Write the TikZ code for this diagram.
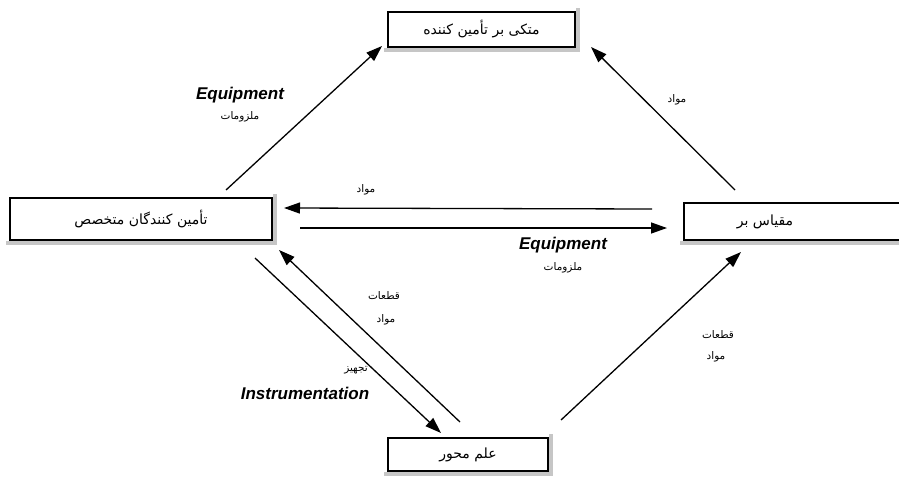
\documentclass[tikz,border=0pt]{standalone}
\usepackage{fontspec}
\setmainfont{Liberation Sans}
\newfontfamily\arabicfont[Script=Arabic]{DejaVu Sans}
\TeXXeTstate=1
\usetikzlibrary{arrows.meta,backgrounds}
\tikzset{
  boxnode/.style={draw, line width=1.3pt, fill=white, inner sep=0pt},
  shadowfill/.style={fill=gray!45},
  arr/.style={line width=1.3pt, -{Triangle[length=16pt,width=11pt]}},
  fa/.style={font=\arabicfont\fontsize{14}{16}\selectfont},
  falab/.style={font=\arabicfont\fontsize{10.5}{12}\selectfont},
  en/.style={font=\fontsize{17}{19}\selectfont\bfseries\itshape}
}
\begin{document}
\begin{tikzpicture}[x=1pt,y=-1pt]
\useasboundingbox (0,0) rectangle (899,479);
% boxes
\node[boxnode, minimum width=187pt, minimum height=35pt, fa] (top) at (481.5,29.5) {\beginR متکی بر تأمین کننده\endR};
\node[boxnode, minimum width=262pt, minimum height=42pt, fa] (left) at (141,219) {\beginR تأمین کنندگان متخصص\endR};
\node[boxnode, minimum width=220pt, minimum height=37pt] (right) at (794,221.5) {};
\node[fa] (righttext) at (765,221.5) {\beginR مقیاس بر\endR};
\node[boxnode, minimum width=160pt, minimum height=33pt, fa] (bottom) at (468,454.5) {\beginR علم محور\endR};
\begin{scope}[on background layer]
\fill[white] (0,0) rectangle (899,479);
\foreach \b in {top,left,right,bottom}{
  \fill[shadowfill] ([xshift=-3pt]\b.south west) rectangle ([xshift=4pt,yshift=-4pt]\b.south east);
  \fill[shadowfill] ([yshift=3pt]\b.north east) rectangle ([xshift=4pt]\b.south east);
}
\end{scope}
% arrow ends
\coordinate (a1s) at (226,190); \coordinate (a1e) at (382,46);
\coordinate (a2s) at (735,190); \coordinate (a2e) at (591,47);
\coordinate (a3s) at (652,209); \coordinate (a3e) at (284,208);
\coordinate (a4s) at (300,228); \coordinate (a4e) at (667,228);
\coordinate (a5s) at (255,258); \coordinate (a5e) at (441,433);
\coordinate (a6s) at (460,422); \coordinate (a6e) at (279,250);
\coordinate (a7s) at (561,420); \coordinate (a7e) at (741,252);
\draw[arr] (a1s) -- (a1e);
\draw[arr] (a2s) -- (a2e);
\draw[arr] (a3s) -- (a3e);
\draw[arr] (a4s) -- (a4e);
\draw[arr] (a5s) -- (a5e);
\draw[arr] (a6s) -- (a6e);
\draw[arr] (a7s) -- (a7e);
% labels
\node[en] (l1) at (240,95) {Equipment};
\node[falab] (l2) at (240,117) {\beginR ملزومات\endR};
\node[falab] (l3) at (677,100) {\beginR مواد\endR};
\node[falab] (l4) at (366,190) {\beginR مواد\endR};
\node[en] (l5) at (563,245) {Equipment};
\node[falab] (l6) at (563,268) {\beginR ملزومات\endR};
\node[falab] (l7) at (384,296) {\beginR قطعات\endR};
\node[falab] (l8) at (386,320) {\beginR مواد\endR};
\node[falab] (l9) at (356,370) {\beginR تجهیز\endR};
\node[en] (l10) at (305,393) {Instrumentation};
\node[falab] (l11) at (718,335) {\beginR قطعات\endR};
\node[falab] (l12) at (716,357) {\beginR مواد\endR};
\end{tikzpicture}
\end{document}
